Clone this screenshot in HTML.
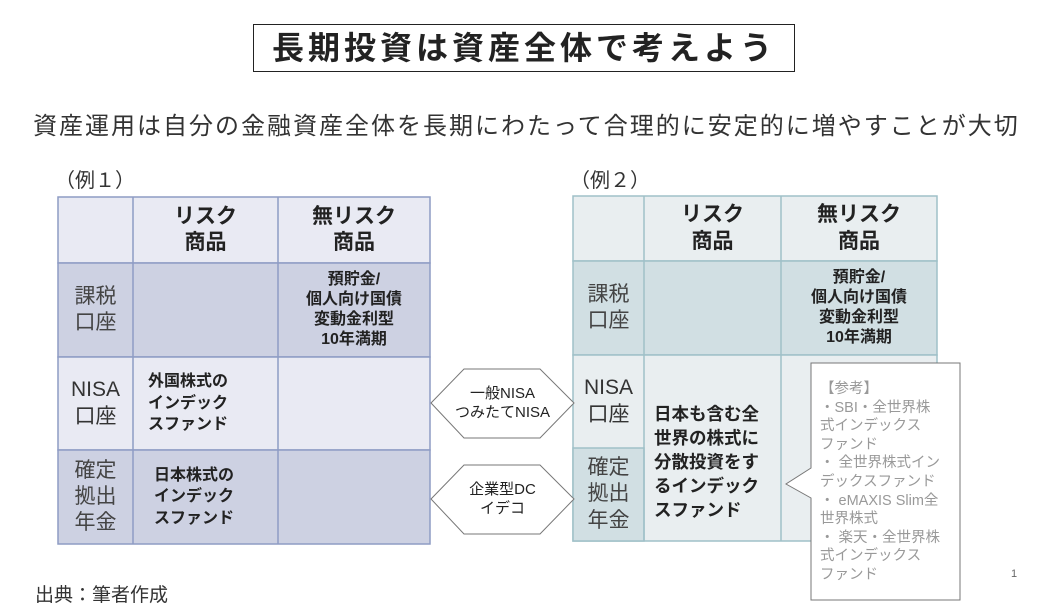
<!DOCTYPE html>
<html><head><meta charset="utf-8"><style>
body{margin:0;width:1040px;height:606px;background:#fff;position:relative;overflow:hidden;font-family:"Liberation Sans","Noto Sans CJK JP",sans-serif;color:#222}
.a{position:absolute}
.c{position:absolute;box-sizing:border-box;display:flex;align-items:center;justify-content:center;text-align:center;line-height:1.25}
.b{font-weight:bold}
</style></head><body>
<div class="c b" style="left:253px;top:24px;width:542px;height:48px;border:1.5px solid #222;font-size:32px;letter-spacing:4px;">長期投資は資産全体で考えよう</div>
<div class="a" style="left:33px;top:106px;font-size:24px;letter-spacing:2px;white-space:nowrap;color:#333">資産運用は自分の金融資産全体を長期にわたって合理的に安定的に増やすことが大切</div>
<div class="a" style="left:55px;top:164px;font-size:20px;color:#333">（例１）</div>
<div class="a" style="left:570px;top:164px;font-size:20px;color:#333">（例２）</div>

<svg class="a" style="left:0;top:0" width="1040" height="606">
<g stroke="#8e9cc4" stroke-width="1.5">
<rect x="58" y="197" width="372" height="66" fill="#e9eaf3"/>
<rect x="58" y="263" width="372" height="94" fill="#cdd1e2"/>
<rect x="58" y="357" width="372" height="93" fill="#e9eaf3"/>
<rect x="58" y="450" width="372" height="94" fill="#cdd1e2"/>
<line x1="133" y1="197" x2="133" y2="544"/><line x1="278" y1="197" x2="278" y2="544"/>
</g>
<g stroke="#9fc0c8" stroke-width="1.5">
<rect x="573" y="196" width="364" height="65" fill="#e9eef0"/>
<rect x="573" y="261" width="364" height="94" fill="#d1dfe3"/>
<rect x="573" y="355" width="364" height="186" fill="#e9eef0"/>
<rect x="573" y="448" width="71" height="93" fill="#d1dfe3"/>
<line x1="644" y1="196" x2="644" y2="541"/><line x1="781" y1="196" x2="781" y2="541"/>
</g>
<g fill="#fff" stroke="#777" stroke-width="1">
<polygon points="431,403 464,369 540,369 574,403 540,438 464,438"/>
<polygon points="431,499 464,465 540,465 574,499 540,534 464,534"/>
<polygon points="811,363 960,363 960,600 811,600 811,498 786,484 811,468"/>
</g>
</svg>
<div class="c b" style="left:133px;top:197px;width:145px;height:66px;font-size:21px">リスク<br>商品</div>
<div class="c b" style="left:278px;top:197px;width:152px;height:66px;font-size:21px">無リスク<br>商品</div>
<div class="c" style="left:58px;top:263px;width:75px;height:94px;font-size:21px;color:#444">課税<br>口座</div>
<div class="c b" style="left:278px;top:263px;width:152px;height:94px;font-size:16px">預貯金/<br>個人向け国債<br>変動金利型<br>10年満期</div>
<div class="c" style="left:58px;top:357px;width:75px;height:93px;font-size:21px;color:#333">NISA<br>口座</div>
<div class="c b" style="left:148px;top:357px;width:130px;height:93px;font-size:16px;text-align:left;justify-content:flex-start;line-height:1.35">外国株式の<br>インデック<br>スファンド</div>
<div class="c" style="left:58px;top:450px;width:75px;height:94px;font-size:21px;color:#444">確定<br>拠出<br>年金</div>
<div class="c b" style="left:154px;top:450px;width:124px;height:94px;font-size:16px;text-align:left;justify-content:flex-start;line-height:1.35">日本株式の<br>インデック<br>スファンド</div>

<div class="c" style="left:431px;top:369px;width:143px;height:69px;font-size:15px">一般NISA<br>つみたてNISA</div>
<div class="c" style="left:431px;top:465px;width:143px;height:69px;font-size:15px">企業型DC<br>イデコ</div>

<div class="c b" style="left:644px;top:196px;width:137px;height:65px;font-size:21px">リスク<br>商品</div>
<div class="c b" style="left:781px;top:196px;width:156px;height:65px;font-size:21px">無リスク<br>商品</div>
<div class="c" style="left:573px;top:261px;width:71px;height:94px;font-size:21px;color:#444">課税<br>口座</div>
<div class="c b" style="left:781px;top:261px;width:156px;height:94px;font-size:16px">預貯金/<br>個人向け国債<br>変動金利型<br>10年満期</div>
<div class="c" style="left:573px;top:355px;width:71px;height:93px;font-size:21px;color:#333">NISA<br>口座</div>
<div class="c" style="left:573px;top:448px;width:71px;height:93px;font-size:21px;color:#444">確定<br>拠出<br>年金</div>
<div class="a b" style="left:654px;top:402px;width:125px;font-size:17.5px;line-height:24px">日本も含む全<br>世界の株式に<br>分散投資をす<br>るインデック<br>スファンド</div>

<div class="a" style="left:820px;top:380px;width:140px;font-size:14.5px;line-height:18.6px;color:#999;white-space:nowrap">【参考】<br>・SBI・全世界株<br>式インデックス<br>ファンド<br>・ 全世界株式イン<br>デックスファンド<br>・ eMAXIS Slim全<br>世界株式<br>・ 楽天・全世界株<br>式インデックス<br>ファンド</div>

<div class="a" style="left:35px;top:580px;font-size:19px;color:#333">出典：筆者作成</div>
<div class="a" style="left:1011px;top:568px;font-size:11px;color:#666">1</div>
</body></html>
